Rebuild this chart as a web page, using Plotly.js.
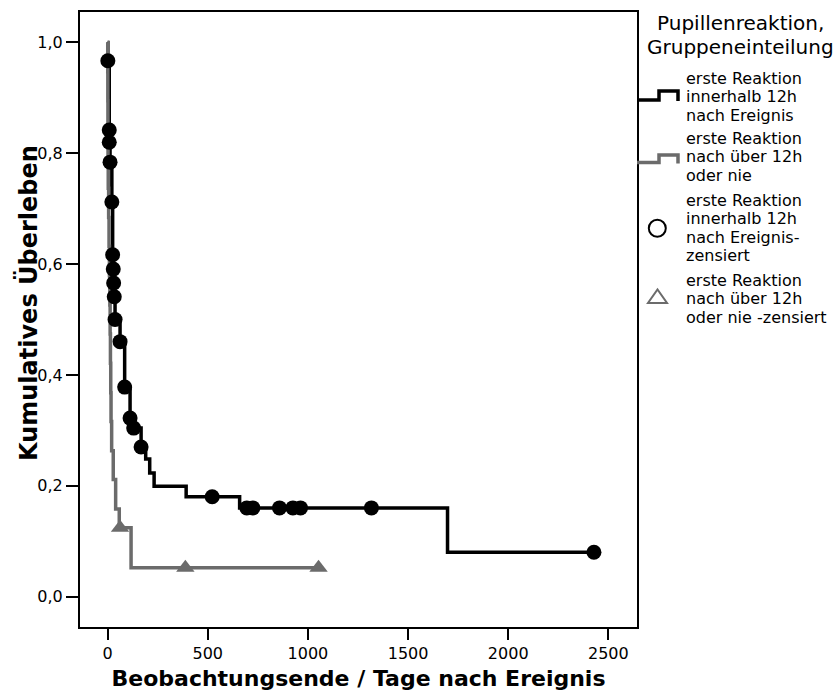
<!DOCTYPE html>
<html><head><meta charset="utf-8">
<script src="https://cdn.plot.ly/plotly-3.0.1.min.js"></script>
<style>html,body{margin:0;padding:0;background:#fff}</style>
</head><body><div id="chart" style="width:836px;height:696px"></div>
<script>
// Group 1: erste Reaktion innerhalb 12h nach Ereignis (step curve)
const blackLineDays = [0, 1, 8, 8, 12, 21, 25, 28, 30, 33, 37, 62, 85, 112, 130, 167, 190, 210, 232, 392, 659, 1697, 2428];
const blackLineSurv = [1.0, 0.967, 0.842, 0.820, 0.784, 0.712, 0.617, 0.591, 0.566, 0.541, 0.500, 0.460, 0.378, 0.322, 0.304, 0.270, 0.248, 0.223, 0.199, 0.180, 0.160, 0.080, 0.080];
// Group 1 censored
const blackCensDays = [1, 8, 8, 12, 21, 25, 28, 30, 33, 37, 62, 85, 112, 130, 167, 522, 695, 725, 858, 925, 963, 1317, 2428];
const blackCensSurv = [0.967, 0.842, 0.820, 0.784, 0.712, 0.617, 0.591, 0.566, 0.541, 0.500, 0.460, 0.378, 0.322, 0.304, 0.270, 0.180, 0.160, 0.160, 0.160, 0.160, 0.160, 0.160, 0.080];
// Group 2: erste Reaktion nach über 12h oder nie (step curve)
const grayLineDays = [0, 0.5, 1, 1.5, 2, 3, 5, 7, 9, 11, 12.5, 14, 15.5, 17, 20, 28, 40, 58, 117, 1053];
const grayLineSurv = [1.0, 0.947, 0.895, 0.842, 0.789, 0.737, 0.684, 0.632, 0.579, 0.526, 0.474, 0.421, 0.368, 0.316, 0.263, 0.211, 0.158, 0.124, 0.052, 0.052];
// Group 2 censored
const grayCensDays = [62, 388, 1053];
const grayCensSurv = [0.124, 0.052, 0.052];

const xTickVals = [0, 500, 1000, 1500, 2000, 2500];
const xTickText = ['0', '500', '1000', '1500', '2000', '2500'];
const yTickVals = [0, 0.2, 0.4, 0.6, 0.8, 1.0];
const yTickText = ['0,0', '0,2', '0,4', '0,6', '0,8', '1,0'];

const xTitle = 'Beobachtungsende / Tage nach Ereignis';
const yTitle = 'Kumulatives Überleben';
const legendTitle = ['Pupillenreaktion,', 'Gruppeneinteilung'];
const legendItems = [
  ['erste Reaktion', 'innerhalb 12h', 'nach Ereignis'],
  ['erste Reaktion', 'nach über 12h', 'oder nie'],
  ['erste Reaktion', 'innerhalb 12h', 'nach Ereignis-', 'zensiert'],
  ['erste Reaktion', 'nach über 12h', 'oder nie -zensiert']
];

const BLACK = '#000000';
const GRAY = '#6b6b6b';
const FONT = 'DejaVu Sans';

// plot area in pixels
const L = 80, R = 637, T = 12, B = 627, W = 836, H = 696;
const px = x => (x - L) / (R - L);
const py = y => (B - y) / (B - T);

const traces = [
  {x: blackLineDays, y: blackLineSurv, type: 'scatter', mode: 'lines',
   line: {color: BLACK, width: 3.5, shape: 'hv'}},
  {x: grayLineDays, y: grayLineSurv, type: 'scatter', mode: 'lines',
   line: {color: GRAY, width: 3.5, shape: 'hv'}},
  {x: grayCensDays, y: grayCensSurv, type: 'scatter', mode: 'markers',
   marker: {symbol: 'triangle-up', size: 16, color: GRAY}},
  {x: blackCensDays, y: blackCensSurv, type: 'scatter', mode: 'markers',
   marker: {symbol: 'circle', size: 15, color: BLACK}}
];

const annotations = [];
const shapes = [];
// y-axis title
annotations.push({
  text: yTitle, xref: 'paper', yref: 'paper', x: px(28), y: py(303),
  xanchor: 'center', yanchor: 'middle', textangle: -90, showarrow: false,
  font: {family: FONT, size: 24, weight: 'bold', color: BLACK}
});
// legend title
const titleY = [23, 47];
legendTitle.forEach((t, i) => annotations.push({
  text: t, xref: 'paper', yref: 'paper', x: px(740), y: py(titleY[i]),
  xanchor: 'center', yanchor: 'middle', showarrow: false,
  font: {family: FONT, size: 20, color: BLACK}
}));
const itemTop = [78.5, 138.5, 200.2, 280.2];
const lineGap = 18.4;
legendItems.forEach((lines, k) => lines.forEach((t, i) => annotations.push({
  text: t, xref: 'paper', yref: 'paper', x: px(684), y: py(itemTop[k] + i * lineGap),
  xanchor: 'left', yanchor: 'middle', showarrow: false,
  font: {family: FONT, size: 16, color: BLACK}
})));
function stepIcon(yLow, yHigh, color) {
  return {type: 'path', xref: 'paper', yref: 'paper',
    path: 'M' + px(637) + ',' + py(yLow) + ' L' + px(659) + ',' + py(yLow) + ' L' + px(659) + ',' + py(yHigh) +
          ' L' + px(678) + ',' + py(yHigh) + ' L' + px(678) + ',' + py(yLow + 1),
    line: {color: color, width: 3.5}};
}
shapes.push(stepIcon(100, 91, BLACK));
shapes.push(stepIcon(162.5, 155, GRAY));
shapes.push({type: 'circle', xref: 'paper', yref: 'paper',
  x0: px(648.8), x1: px(665.8), y0: py(236.8), y1: py(219.8),
  line: {color: BLACK, width: 2}});
shapes.push({type: 'path', xref: 'paper', yref: 'paper',
  path: 'M' + px(648) + ',' + py(303) + ' L' + px(667) + ',' + py(303) + ' L' + px(657.5) + ',' + py(289.5) + ' Z',
  line: {color: GRAY, width: 2}});

const layout = {
  width: W, height: H,
  margin: {l: L, r: W - R, t: T, b: H - B, pad: 0},
  paper_bgcolor: '#fff', plot_bgcolor: '#fff',
  showlegend: false, hovermode: false,
  font: {family: FONT, size: 16, color: BLACK},
  xaxis: {
    range: [-138, 2643], tickvals: xTickVals, ticktext: xTickText,
    showgrid: false, zeroline: false, showline: true, mirror: true,
    linecolor: BLACK, linewidth: 2, ticks: 'outside', ticklen: 11, tickwidth: 2, tickcolor: BLACK,
    tickfont: {family: FONT, size: 16, color: BLACK},
    title: {text: xTitle, standoff: 8,
      font: {family: FONT, size: 22, weight: 'bold', color: BLACK}}
  },
  yaxis: {
    range: [-0.055, 1.055], tickvals: yTickVals, ticktext: yTickText,
    showgrid: false, zeroline: false, showline: true, mirror: true,
    linecolor: BLACK, linewidth: 2, ticks: 'outside', ticklen: 12, tickwidth: 2, tickcolor: BLACK,
    tickfont: {family: FONT, size: 16, color: BLACK}
  },
  annotations: annotations,
  shapes: shapes
};

Plotly.newPlot('chart', traces, layout, {staticPlot: true, displayModeBar: false});
</script>
</body></html>
